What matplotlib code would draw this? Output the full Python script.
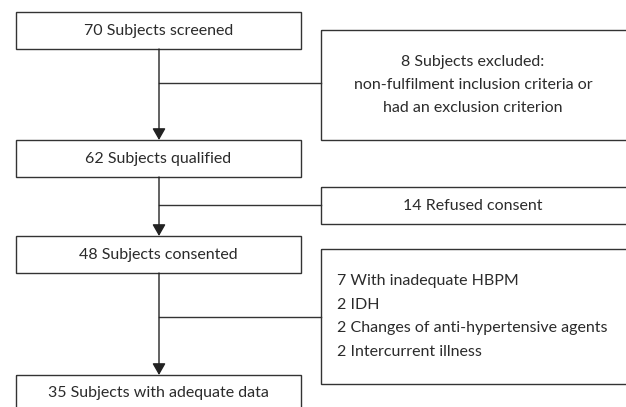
import matplotlib
matplotlib.use("Agg")
import matplotlib.pyplot as plt
from matplotlib.patches import Rectangle

# flowchart content
step_counts = [70, 62, 48, 35]
step_labels = ["Subjects screened", "Subjects qualified",
               "Subjects consented", "Subjects with adequate data"]
excluded_texts = [
    "8 Subjects excluded:\nnon-fulfilment inclusion criteria or\nhad an exclusion criterion",
    "14 Refused consent",
    "7 With inadequate HBPM\n2 IDH\n2 Changes of anti-hypertensive agents\n2 Intercurrent illness",
]

plt.rcParams['font.family'] = ['Lato', 'DejaVu Sans']
INK = "#333333"
TXT = "#2b2b2b"
FS = 11.5

fig = plt.figure(figsize=(6.26, 4.07), dpi=100)
ax = fig.add_axes([0, 0, 1, 1])
ax.set_xlim(0, 626)
ax.set_ylim(407, 0)
ax.axis("off")

# main column boxes (top, bottom) in pixels
main_x0, main_x1 = 16, 301
main_boxes = [(12, 49), (140, 177), (236, 273), (375, 412)]
spine_x = 159

# side boxes (top, bottom) and where the branch joins
side_x0, side_x1 = 321, 630
side_boxes = [(30, 140), (187, 224), (249, 384)]
branch_y = [83, 205, 317]

for (top, bot), n, lab in zip(main_boxes, step_counts, step_labels):
    ax.add_patch(Rectangle((main_x0, top), main_x1 - main_x0, bot - top,
                           fill=False, ec=INK, lw=1.0))
    cy = (top + bot) / 2 if bot <= 407 else top + 18
    ax.text((main_x0 + main_x1) / 2, cy, f"{n} {lab}", ha="center",
            va="center", fontsize=FS, color=TXT)

for i, ((top, bot), txt) in enumerate(zip(side_boxes, excluded_texts)):
    ax.add_patch(Rectangle((side_x0, top), side_x1 - side_x0, bot - top,
                           fill=False, ec=INK, lw=1.0))
    if i == 2:
        ax.text(337, (top + bot) / 2, txt, ha="left", va="center",
                fontsize=FS, color=TXT, linespacing=1.85)
    else:
        ax.text(473, (top + bot) / 2, txt, ha="center", va="center",
                fontsize=FS, color=TXT, linespacing=1.8)
    ax.plot([spine_x, side_x0], [branch_y[i], branch_y[i]], color=INK, lw=1.0)

# arrows between main boxes
for (t0, b0), (t1, b1) in zip(main_boxes[:-1], main_boxes[1:]):
    ax.annotate("", xy=(spine_x, t1), xytext=(spine_x, b0),
                arrowprops=dict(arrowstyle="-|>,head_length=0.7,head_width=0.4",
                                color="#222222", lw=1.0, shrinkA=0, shrinkB=0,
                                mutation_scale=10))

fig.savefig("out.png", dpi=100, facecolor="white")
